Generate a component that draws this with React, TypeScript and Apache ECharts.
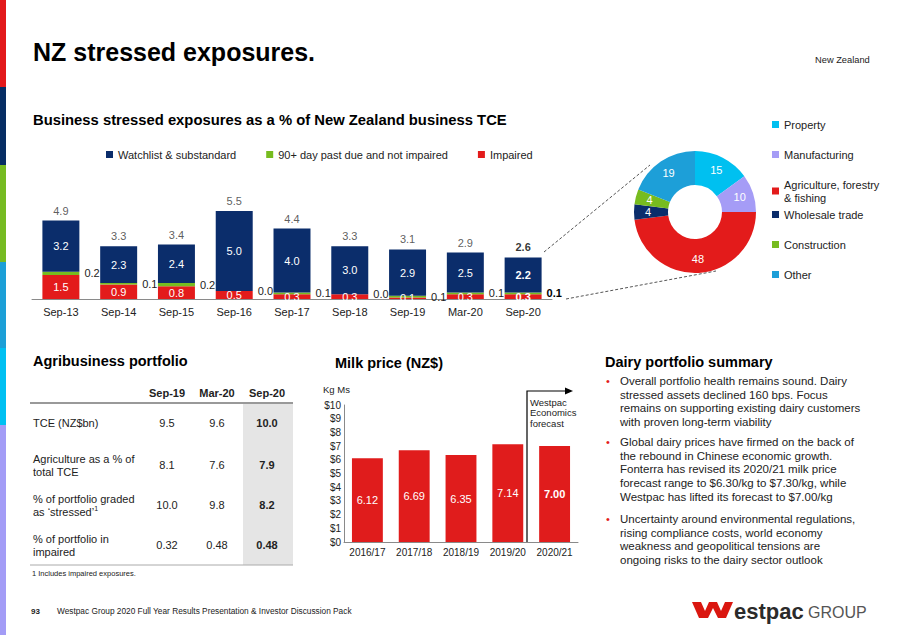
import React, { useEffect, useRef } from "react";
import * as echarts from "echarts";

// ---------- Data ----------
const periods = ["Sep-13", "Sep-14", "Sep-15", "Sep-16", "Sep-17", "Sep-18", "Sep-19", "Mar-20", "Sep-20"];
const watchlist = [3.2, 2.3, 2.4, 5.0, 4.0, 3.0, 2.9, 2.5, 2.2];
const pastDue = [0.2, 0.1, 0.2, 0.0, 0.1, 0.0, 0.1, 0.1, 0.1];
const impaired = [1.5, 0.9, 0.8, 0.5, 0.3, 0.3, 0.1, 0.3, 0.3];
const totals = [4.9, 3.3, 3.4, 5.5, 4.4, 3.3, 3.1, 2.9, 2.6];

const sectors = ["Property", "Manufacturing", "Agriculture, forestry\n& fishing", "Wholesale trade", "Construction", "Other"];
const sectorShares = [15, 10, 48, 4, 4, 19];

const seasons = ["2016/17", "2017/18", "2018/19", "2019/20", "2020/21"];
const milkPrices = [6.12, 6.69, 6.35, 7.14, 7.0];

const tableColumns = ["Sep-19", "Mar-20", "Sep-20"];
const tableRowLabels = [
  "TCE (NZ$bn)",
  "Agriculture as a % of\ntotal TCE",
  "% of portfolio graded\nas \u2018stressed\u2019{sup|1}",
  "% of portfolio in\nimpaired",
];
const tableRowDecimals = [1, 1, 1, 2];
const tableValues = [
  [9.5, 9.6, 10.0],
  [8.1, 7.6, 7.9],
  [10.0, 9.8, 8.2],
  [0.32, 0.48, 0.48],
];

const bullets = [
  "Overall portfolio health remains sound. Dairy\nstressed assets declined 160 bps. Focus\nremains on supporting existing dairy customers\nwith proven long-term viability",
  "Global dairy prices have firmed on the back of\nthe rebound in Chinese economic growth.\nFonterra has revised its 2020/21 milk price\nforecast range to $6.30/kg to $7.30/kg, while\nWestpac has lifted its forecast to $7.00/kg",
  "Uncertainty around environmental regulations,\nrising compliance costs, world economy\nweakness and geopolitical tensions are\nongoing risks to the dairy sector outlook",
];

// ---------- Styles ----------
const FONT = "Liberation Sans, Arial, Helvetica, sans-serif";
const NAVY = "#0b2d6b";
const GREEN = "#77bc1f";
const RED = "#e31b1b";
const CYAN = "#00c0f0";
const LAVENDER = "#a59cf6";
const BLUE = "#1d9fd8";
const TEXT = "#222222";

const boldLast = (arr: number[], extra: any = {}) =>
  arr.map((v, i) => (i === arr.length - 1 ? { value: v, label: { fontWeight: "bold", ...extra } } : v));

export default function App() {
  const ref = useRef<HTMLDivElement>(null);

  useEffect(() => {
    if (!ref.current) return;
    const chart = echarts.init(ref.current, null, { renderer: "svg" });

    const colX = [167, 217, 267];
    const rowY = [423, 465, 505, 545];
    const bulletTops = [374, 435, 512];

    const graphic: any[] = [
      // left stripe
      { type: "rect", shape: { x: 0, y: 0, width: 6, height: 87 }, style: { fill: "#e3191b" } },
      { type: "rect", shape: { x: 0, y: 87, width: 6, height: 78 }, style: { fill: "#062d64" } },
      { type: "rect", shape: { x: 0, y: 165, width: 6, height: 97 }, style: { fill: "#76bb21" } },
      { type: "rect", shape: { x: 0, y: 262, width: 6, height: 86 }, style: { fill: "#1c9fd7" } },
      { type: "rect", shape: { x: 0, y: 348, width: 6, height: 77 }, style: { fill: "#00c0f2" } },
      { type: "rect", shape: { x: 0, y: 425, width: 6, height: 210 }, style: { fill: "#a39cf6" } },
      // title
      { type: "text", left: 33, top: 39, style: { text: "NZ stressed exposures.", font: `bold 25px ${FONT}`, fill: "#000" } },
      { type: "text", left: 815, top: 55, style: { text: "New Zealand", font: `9.3px ${FONT}`, fill: TEXT } },
      { type: "text", left: 33, top: 112, style: { text: "Business stressed exposures as a % of New Zealand business TCE", font: `bold 14.8px ${FONT}`, fill: "#000" } },
      // dashed connector lines
      { type: "line", shape: { x1: 544, y1: 252, x2: 650, y2: 165 }, style: { stroke: "#555", lineWidth: 1, lineDash: [3, 2] } },
      { type: "line", shape: { x1: 566, y1: 299, x2: 716, y2: 271 }, style: { stroke: "#555", lineWidth: 1, lineDash: [3, 2] } },
      // section titles
      { type: "text", left: 33, top: 353, style: { text: "Agribusiness portfolio", font: `bold 14.5px ${FONT}`, fill: "#000" } },
      { type: "text", left: 335, top: 355, style: { text: "Milk price (NZ$)", font: `bold 14.5px ${FONT}`, fill: "#000" } },
      { type: "text", left: 605, top: 354, style: { text: "Dairy portfolio summary", font: `bold 14.5px ${FONT}`, fill: "#000" } },
      // table
      { type: "rect", shape: { x: 243, y: 403, width: 50, height: 162 }, style: { fill: "#e5e5e5" } },
      { type: "line", shape: { x1: 30, y1: 403, x2: 293, y2: 403 }, style: { stroke: "#999", lineWidth: 2 } },
      { type: "line", shape: { x1: 30, y1: 565, x2: 293, y2: 565 }, style: { stroke: "#aaa", lineWidth: 1 } },
      ...tableColumns.map((c, i) => ({
        type: "text",
        x: colX[i],
        y: 393,
        style: { text: c, font: `bold 11px ${FONT}`, fill: TEXT, align: "center", verticalAlign: "middle" },
      })),
      ...tableRowLabels.map((t, r) => ({
        type: "text",
        x: 33,
        y: rowY[r],
        style: {
          text: t,
          font: `11px ${FONT}`,
          fill: TEXT,
          lineHeight: 13,
          verticalAlign: "middle",
          rich: { sup: { fontSize: 7, verticalAlign: "top", fill: TEXT, padding: [0, 0, 4, 0] } },
        },
      })),
      ...tableValues.flatMap((row, r) =>
        row.map((v, c) => ({
          type: "text",
          x: colX[c],
          y: rowY[r],
          style: {
            text: v.toFixed(tableRowDecimals[r]),
            font: `${c === 2 ? "bold " : ""}11px ${FONT}`,
            fill: TEXT,
            align: "center",
            verticalAlign: "middle",
          },
        }))
      ),
      { type: "text", left: 32, top: 569, style: { text: "1 Includes impaired exposures.", font: `7.5px ${FONT}`, fill: TEXT } },
      // milk chart annotations
      { type: "text", left: 323, top: 384, style: { text: "Kg Ms", font: `9.5px ${FONT}`, fill: TEXT } },
      { type: "polyline", shape: { points: [[527, 542], [527, 391], [566, 391]] }, style: { stroke: "#000", lineWidth: 1.2, fill: null } },
      { type: "polygon", shape: { points: [[565, 387.5], [573, 391], [565, 394.5]] }, style: { fill: "#000" } },
      { type: "text", left: 530, top: 397, style: { text: "Westpac\nEconomics\nforecast", font: `9.5px ${FONT}`, fill: TEXT, lineHeight: 10.5 } },
      // dairy bullets
      ...bullets.flatMap((b, i) => [
        { type: "text", left: 606, top: bulletTops[i], style: { text: "\u2022", font: `11px ${FONT}`, fill: RED, lineHeight: 13.7 } },
        { type: "text", left: 620, top: bulletTops[i], style: { text: b, font: `11.5px ${FONT}`, fill: TEXT, lineHeight: 13.7 } },
      ]),
      // footer
      { type: "text", left: 31, top: 607, style: { text: "93", font: `bold 8px ${FONT}`, fill: TEXT } },
      { type: "text", left: 57, top: 607, style: { text: "Westpac Group 2020 Full Year Results Presentation & Investor Discussion Pack", font: `8.3px ${FONT}`, fill: TEXT } },
      {
        type: "polygon",
        shape: {
          points: [[692, 602], [701, 602], [705, 611], [709, 602], [717, 602], [721, 611], [725, 602], [733, 602], [726, 618], [718, 618], [713, 608], [708, 618], [699, 618]],
        },
        style: { fill: "#da1710" },
      },
      { type: "text", x: 734, y: 611, style: { text: "estpac", font: `bold 22px ${FONT}`, fill: "#2b2b2b", verticalAlign: "middle" } },
      { type: "text", x: 808, y: 612, style: { text: "GROUP", font: `16px ${FONT}`, fill: "#555", verticalAlign: "middle" } },
    ];

    const option: any = {
      animation: false,
      textStyle: { fontFamily: FONT },
      graphic,
      legend: [
        {
          left: 106,
          top: 149,
          padding: 0,
          itemWidth: 7,
          itemHeight: 7,
          itemGap: 30,
          icon: "rect",
          textStyle: { fontSize: 11, color: TEXT, fontFamily: FONT },
          data: ["Watchlist & substandard", "90+ day past due and not impaired", "Impaired"],
        },
        {
          left: 772,
          top: 118,
          padding: 0,
          orient: "vertical",
          itemWidth: 7,
          itemHeight: 7,
          itemGap: 17,
          icon: "rect",
          textStyle: { fontSize: 11, color: TEXT, fontFamily: FONT, lineHeight: 13 },
          data: sectors.slice(0, 3),
        },
        {
          left: 772,
          top: 208,
          padding: 0,
          orient: "vertical",
          itemWidth: 7,
          itemHeight: 7,
          itemGap: 17,
          icon: "rect",
          textStyle: { fontSize: 11, color: TEXT, fontFamily: FONT, lineHeight: 13 },
          data: sectors.slice(3),
        },
      ],
      grid: [
        { left: 32, top: 203, width: 520, height: 96 },
        { left: 344, top: 405, width: 234, height: 137 },
      ],
      xAxis: [
        {
          gridIndex: 0,
          type: "category",
          data: periods,
          axisLine: { lineStyle: { color: "#8a8a8a" } },
          axisTick: { show: false },
          axisLabel: { fontSize: 11, color: TEXT, margin: 7, interval: 0 },
        },
        {
          gridIndex: 1,
          type: "category",
          data: seasons,
          axisLine: { lineStyle: { color: "#8a8a8a" } },
          axisTick: { show: false },
          axisLabel: { fontSize: 10, color: TEXT, margin: 5, interval: 0 },
        },
      ],
      yAxis: [
        { gridIndex: 0, type: "value", min: 0, max: 6, show: false },
        {
          gridIndex: 1,
          type: "value",
          min: 0,
          max: 10,
          interval: 1,
          splitLine: { show: false },
          axisLine: { show: true, lineStyle: { color: "#8a8a8a" } },
          axisTick: { show: false },
          axisLabel: { fontSize: 10, color: TEXT, margin: 3, formatter: (v: number) => "$" + v },
        },
      ],
      series: [
        {
          name: "Impaired",
          type: "bar",
          stack: "s",
          xAxisIndex: 0,
          yAxisIndex: 0,
          barWidth: "64%",
          itemStyle: { color: RED },
          label: { show: true, position: "inside", color: "#fff", fontSize: 11, formatter: (p: any) => Number(p.value).toFixed(1) },
          data: boldLast(impaired),
        },
        {
          name: "90+ day past due and not impaired",
          type: "bar",
          stack: "s",
          xAxisIndex: 0,
          yAxisIndex: 0,
          barWidth: "64%",
          itemStyle: { color: GREEN },
          label: { show: true, position: "right", distance: 5, color: TEXT, fontSize: 11, formatter: (p: any) => Number(p.value).toFixed(1) },
          data: boldLast(pastDue, { color: "#000" }),
        },
        {
          name: "Watchlist & substandard",
          type: "bar",
          stack: "s",
          xAxisIndex: 0,
          yAxisIndex: 0,
          barWidth: "64%",
          itemStyle: { color: NAVY },
          label: { show: true, position: "inside", color: "#fff", fontSize: 11, formatter: (p: any) => Number(p.value).toFixed(1) },
          data: boldLast(watchlist),
        },
        {
          name: "Total",
          type: "scatter",
          xAxisIndex: 0,
          yAxisIndex: 0,
          symbolSize: 1,
          silent: true,
          itemStyle: { color: "rgba(0,0,0,0)" },
          label: { show: true, position: "top", distance: 4, color: "#333", fontSize: 11, formatter: (p: any) => Number(p.value[1] ?? p.value).toFixed(1) },
          data: boldLast(totals, { color: "#000" }),
        },
        {
          name: "Sector",
          type: "pie",
          center: [695, 212],
          radius: [27, 61],
          startAngle: 90,
          clockwise: true,
          silent: true,
          label: { show: true, position: "inside", color: "#fff", fontSize: 11, formatter: (p: any) => String(p.value) },
          labelLine: { show: false },
          data: sectors.map((n, i) => ({
            name: n,
            value: sectorShares[i],
            itemStyle: { color: [CYAN, LAVENDER, RED, NAVY, GREEN, BLUE][i] },
          })),
        },
        {
          name: "Milk price",
          type: "bar",
          xAxisIndex: 1,
          yAxisIndex: 1,
          barWidth: "66%",
          itemStyle: { color: "#e01c1c" },
          label: { show: true, position: "inside", color: "#fff", fontSize: 11, formatter: (p: any) => Number(p.value).toFixed(2) },
          data: boldLast(milkPrices),
        },
      ],
    };

    chart.setOption(option);
    return () => chart.dispose();
  }, []);

  return (
    <div
      ref={ref}
      style={{ position: "fixed", left: 0, top: 0, width: 898, height: 635, background: "#fff" }}
    />
  );
}
